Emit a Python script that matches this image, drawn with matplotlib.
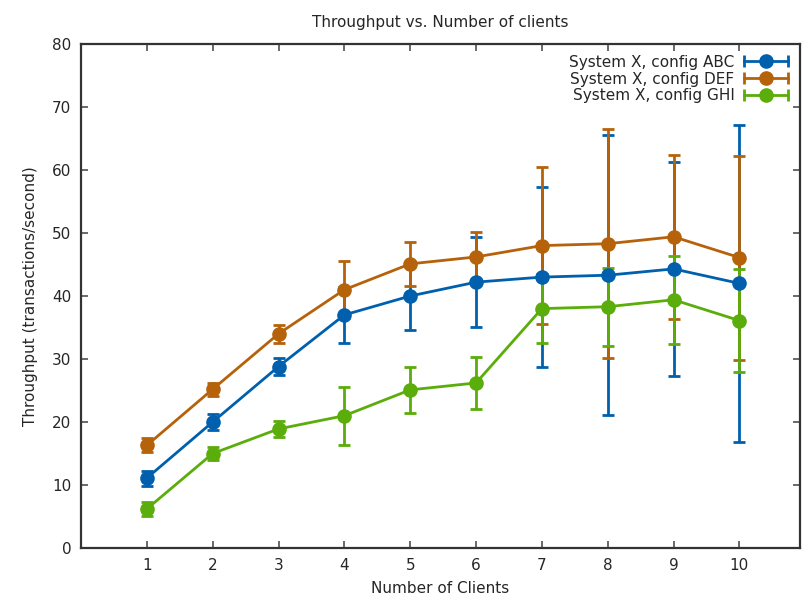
import matplotlib
matplotlib.use("Agg")
import matplotlib.pyplot as plt
from matplotlib.legend_handler import HandlerBase
from matplotlib.lines import Line2D

clients = [1, 2, 3, 4, 5, 6, 7, 8, 9, 10]

abc = [11.1, 20.0, 28.8, 37.0, 40.0, 42.2, 43.0, 43.3, 44.3, 42.0]
abc_err = [1.2, 1.2, 1.3, 4.5, 5.4, 7.1, 14.3, 22.2, 17.0, 25.2]

def_ = [16.3, 25.2, 34.0, 41.0, 45.1, 46.2, 48.0, 48.3, 49.4, 46.1]
def_err = [1.1, 1.0, 1.4, 4.5, 3.5, 4.0, 12.4, 18.2, 13.0, 16.2]

ghi = [6.2, 15.0, 18.9, 21.0, 25.1, 26.2, 38.0, 38.3, 39.4, 36.1]
ghi_err = [1.1, 1.1, 1.3, 4.6, 3.6, 4.1, 5.5, 6.2, 7.0, 8.2]

labels = ["System X, config ABC", "System X, config DEF", "System X, config GHI"]
colors = ["#0060ad", "#b5620b", "#5aad0a"]
yticks = [0, 10, 20, 30, 40, 50, 60, 70, 80]

textc = "#262626"
plt.rcParams["text.color"] = textc
plt.rcParams["axes.labelcolor"] = textc
plt.rcParams["xtick.color"] = "#505050"
plt.rcParams["ytick.color"] = "#505050"
plt.rcParams["xtick.labelcolor"] = textc
plt.rcParams["ytick.labelcolor"] = textc

fig = plt.figure(figsize=(8.02, 6.0), dpi=100)
ax = fig.add_axes([81/802, 52/600, (800-81)/802, (548-44)/600])

series = [(abc, abc_err), (def_, def_err), (ghi, ghi_err)]
for (vals, errs), c in zip(series, colors):
    ax.errorbar(clients, vals, yerr=errs, color=c, lw=2, marker="o", ms=9.5,
                capsize=4, capthick=2, elinewidth=2)


class HErrHandler(HandlerBase):
    def __init__(self, color):
        super().__init__()
        self.color = color

    def create_artists(self, legend, orig_handle, xdescent, ydescent,
                       width, height, fontsize, trans):
        y = height / 2 - ydescent
        x0, x1 = -xdescent, width - xdescent
        line = Line2D([x0, x1], [y, y], color=self.color, lw=2, transform=trans)
        caps = Line2D([x0, x1], [y, y], color=self.color, lw=0, marker="|",
                      ms=9, mew=2, transform=trans)
        dot = Line2D([(x0 + x1) / 2], [y], color=self.color, lw=0, marker="o",
                     ms=9.5, transform=trans)
        return [line, caps, dot]


handles = [Line2D([], [], color=c) for c in colors]
hmap = {h: HErrHandler(c) for h, c in zip(handles, colors)}
ax.legend(handles, labels, handler_map=hmap, loc="upper right",
          markerfirst=False, frameon=False, fontsize=11, handlelength=2.9,
          handletextpad=0.6, labelspacing=0.12, borderaxespad=0.3,
          bbox_to_anchor=(0.998, 1.0))

ax.set_xlim(0, 10.92)
ax.set_ylim(0, 80)
ax.set_xticks(clients)
ax.set_yticks(yticks)
ax.tick_params(direction="in", top=True, right=True, length=5, width=1.2,
               labelsize=11, pad=7)
for s in ax.spines.values():
    s.set_linewidth(1.6)
    s.set_color("#333333")
ax.set_title("Throughput vs. Number of clients", fontsize=11, pad=12)
ax.set_xlabel("Number of Clients", fontsize=11, labelpad=6)
ax.set_ylabel("Throughput (transactions/second)", fontsize=11, labelpad=10)

fig.savefig("out.png", dpi=100)
